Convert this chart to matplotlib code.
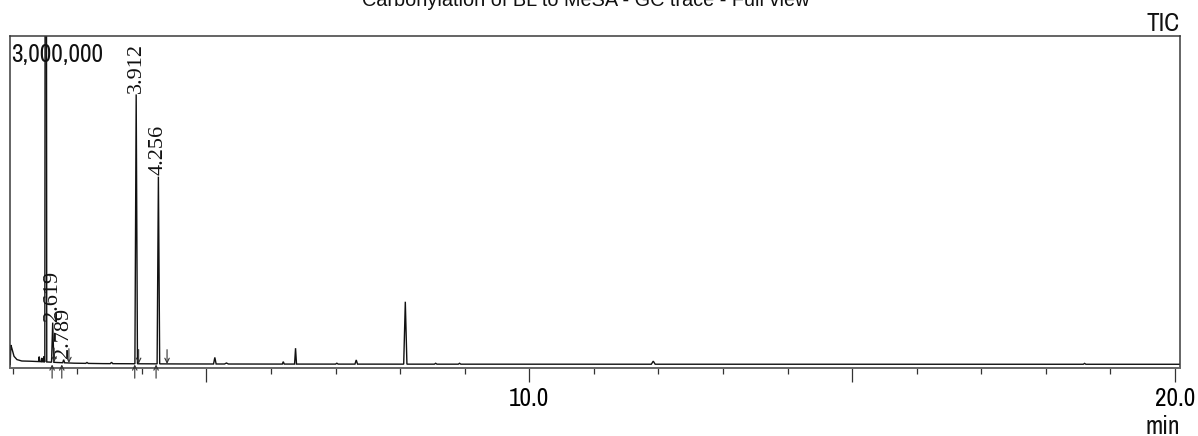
import numpy as np
import matplotlib
matplotlib.use("Agg")
import matplotlib.pyplot as plt
from matplotlib.ticker import FixedLocator, MultipleLocator

# ---- data -------------------------------------------------------------
title = "Carbonylation of BL to MeSA - GC trace - Full view"
signal_name = "TIC"
scale_label = "3,000,000"
x_unit = "min"

# slowly drifting baseline (retention time in min, intensity in counts)
baseline_t = [1.960, 1.972, 1.990, 2.020, 2.065, 2.140, 2.270, 2.390, 2.470,
              2.700, 2.950, 3.400, 4.600, 6.000, 8.500, 12.00, 20.07]
baseline_y = [0, 178000, 140000, 75000, 45000, 32000, 30000, 27000, 25000,
              18000, 12000, 8000, 5000, 4000, 3000, 2500, 2000]

# peaks: apex time (min), apex height above baseline (counts), half width (min)
peak_t = [2.410, 2.450, 2.485, 2.512, 2.619, 2.789, 3.150, 3.530, 3.912,
          4.256, 5.130, 5.310, 6.190, 6.380, 7.020, 7.320, 8.080, 8.550,
          8.920, 11.92, 18.60]
peak_h = [45000, 35000, 50000, 12000000, 362000, 28000, 8000, 12000, 2460000,
          1710000, 60000, 9000, 22000, 145000, 8000, 38000, 570000, 8000,
          8000, 28000, 8000]
peak_w = [0.010, 0.008, 0.008, 0.015, 0.018, 0.015, 0.020, 0.020, 0.020,
          0.020, 0.020, 0.030, 0.015, 0.015, 0.020, 0.020, 0.025, 0.020,
          0.020, 0.030, 0.020]

# labelled peaks (retention times)
label_t = [2.619, 2.789, 3.912, 4.256]
label_text = ["2.619", "2.789", "3.912", "4.256"]

# integration start / end markers (min)
peak_start = [2.61, 2.76, 3.89, 4.22]
peak_end = [2.64, 2.87, 3.95, 4.39]

# axis
x_range = (1.95, 20.07)
y_range = (-27400, 3000000)
major_ticks = [5.0, 10.0, 15.0, 20.0]
major_labels = ["", "10.0", "", "20.0"]

# ---- build the trace polyline -----------------------------------------
def base_at(t):
    return np.interp(t, baseline_t, baseline_y)

pts = list(zip(baseline_t, baseline_y))
for t, h, w in zip(peak_t, peak_h, peak_w):
    pts.append((t - w, base_at(t - w)))
    pts.append((t, base_at(t) + h))
    pts.append((t + w, base_at(t + w)))
pts.sort()
# drop baseline points that fall inside a peak window
clean = []
for t, y in pts:
    inside = any((t > pt - pw) and (t < pt + pw) and abs(t - pt) > 1e-9
                 for pt, pw in zip(peak_t, peak_w))
    if not inside:
        clean.append((t, y))
trace_t = np.array([p[0] for p in clean])
trace_y = np.array([p[1] for p in clean])

# ---- figure -------------------------------------------------------------
W, H = 1198, 436
fig = plt.figure(figsize=(W / 100, H / 100), dpi=100)

def fx(x):
    return x / W

def fy(y):
    return 1 - y / H

narrow = ["Archivo Narrow", "PT Sans Narrow", "Liberation Sans"]
serif = ["Liberation Serif", "DejaVu Serif"]

# size the narrow labels so that the scale label spans its 92 px slot
probe = fig.text(0, 0, scale_label, fontsize=18, family=narrow)
fig.canvas.draw()
label_size = 18 * 92.0 / probe.get_window_extent().width
probe.remove()

left, right, top, bottom = 9.5, 1179.5, 36, 367.5
ax = fig.add_axes([fx(left), fy(bottom), fx(right - left), (bottom - top) / H])

ax.plot(trace_t, trace_y, color="#111111", lw=1.0, solid_joinstyle="miter")

ax.set_xlim(*x_range)
ax.set_ylim(*y_range)
ax.set_yticks([])

ax.xaxis.set_major_locator(FixedLocator(major_ticks))
ax.set_xticklabels(major_labels)
ax.xaxis.set_minor_locator(MultipleLocator(1.0))
ax.tick_params(axis="x", which="major", direction="out", length=10.3,
               width=0.9, color="#333333", pad=3.5, labelsize=label_size)
ax.tick_params(axis="x", which="minor", direction="out", length=4.2,
               width=0.9, color="#333333")
for lab in ax.get_xticklabels():
    lab.set_family(narrow)

for s in ax.spines.values():
    s.set_color("#3a3a3a")
    s.set_linewidth(1.1)
ax.spines["bottom"].set_color("#666666")
ax.spines["bottom"].set_linewidth(1.4)

# peak labels
for t, txt in zip(label_t, label_text):
    i = peak_t.index(t)
    top_val = base_at(t) + peak_h[i]
    ax.annotate(txt, xy=(t, top_val), xytext=(0, 1.2), textcoords="offset points",
                rotation=90, ha="center", va="bottom", fontsize=16,
                family=serif, color="#111111")

# integration markers
arrow_kw = dict(arrowstyle="->", lw=0.8, color="#333333", shrinkA=0, shrinkB=0,
                mutation_scale=8)
for t in peak_start:
    ax.annotate("", xy=(t, 0), xytext=(t, -125000), arrowprops=arrow_kw,
                annotation_clip=False)
for t in peak_end:
    ax.annotate("", xy=(t, base_at(t)), xytext=(t, base_at(t) + 130000),
                arrowprops=arrow_kw, annotation_clip=False)

# text around the frame
fig.text(fx(11), fy(61.7), scale_label, ha="left", va="baseline",
         fontsize=label_size, family=narrow, color="#111111")
fig.text(fx(1180), fy(31), signal_name, ha="right", va="baseline",
         fontsize=label_size, family=narrow, color="#111111")
fig.text(fx(1180), fy(434), x_unit, ha="right", va="baseline",
         fontsize=label_size, family=narrow, color="#111111")
fig.text(fx(586), fy(5.5), title, ha="center", va="baseline", fontsize=14.3,
         family=["Liberation Sans", "DejaVu Sans"], color="#111111")

fig.savefig("out.png", dpi=100)
